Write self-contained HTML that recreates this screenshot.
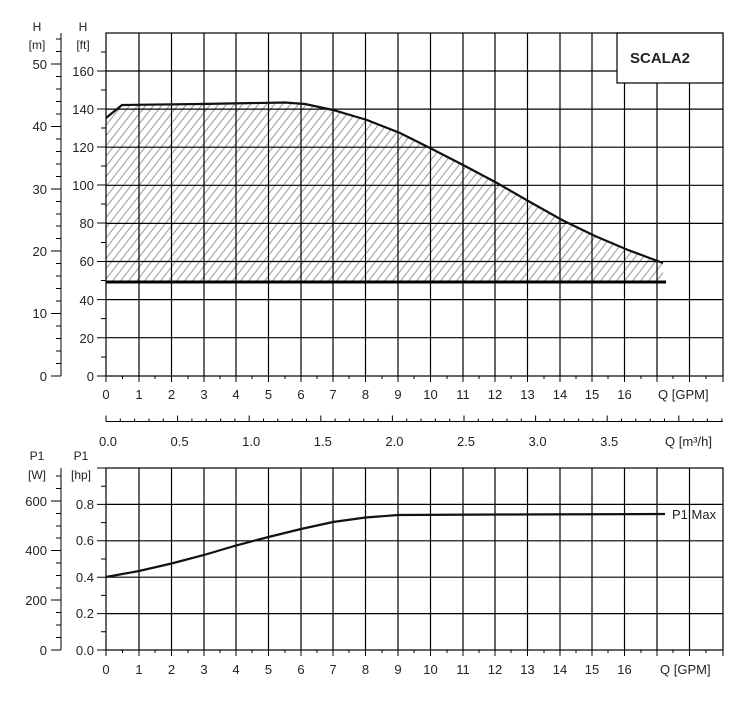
<!DOCTYPE html>
<html><head><meta charset="utf-8"><style>
html,body{margin:0;padding:0;background:#fff;}
svg text{font-family:"Liberation Sans",Arial,sans-serif;fill:#222;}
</style></head><body>
<svg width="753" height="700" viewBox="0 0 753 700" xmlns="http://www.w3.org/2000/svg">
<defs>
<pattern id="h" patternUnits="userSpaceOnUse" width="8" height="10" patternTransform="skewX(-38)">
<line x1="4" y1="0" x2="4" y2="10" stroke="#999" stroke-width="1.3"/>
</pattern>
</defs>
<rect width="753" height="700" fill="#fff"/>

<!-- hatched area -->
<path d="M106,118 L122,105 L200,104 L285,102.5 L305,104 L333,110 L367,120 L400,133 L432,149 L465,166 L497,183 L530,202 L562,220 L595,236 L628,250 L663,263 L663,282 L106,282 Z" fill="url(#h)"/>

<!-- top grid -->
<g stroke="#000" stroke-width="1.2" fill="none">
<rect x="106" y="33" width="617" height="343"/>
<path d="M139,33V376M171.5,33V376M204,33V376M236,33V376M268.5,33V376M301,33V376M333,33V376M365.5,33V376M398,33V376M430.5,33V376M463,33V376M495,33V376M527.5,33V376M560,33V376M592,33V376M624.5,33V376M657,33V376M689.5,33V376"/>
<path d="M106,71H723M106,109.1H723M106,147.2H723M106,185.3H723M106,223.4H723M106,261.5H723M106,299.6H723M106,337.7H723"/>
</g>
<rect x="617" y="33" width="106" height="50" fill="#fff" stroke="#000" stroke-width="1.2"/>
<text x="630" y="63" font-size="15" font-weight="bold">SCALA2</text>

<!-- curve -->
<path d="M106,118 L122,105 L200,104 L285,102.5 L305,104 L333,110 L367,120 L400,133 L432,149 L465,166 L497,183 L530,202 L562,220 L595,236 L628,250 L663,263" fill="none" stroke="#111" stroke-width="2.2"/>
<line x1="106" y1="282" x2="666" y2="282" stroke="#000" stroke-width="3"/>

<!-- left axes top -->
<g stroke="#000" stroke-width="1">
<line x1="61" y1="33" x2="61" y2="376"/>
<path d="M51,64H61M51,126.5H61M51,189H61M51,251H61M51,313.5H61M51,376H61"/>
<path d="M56,39H61M56,51.5H61M56,76.5H61M56,89H61M56,101.5H61M56,114H61M56,139H61M56,151.5H61M56,164H61M56,176.5H61M56,201.5H61M56,214H61M56,226H61M56,238.5H61M56,263.5H61M56,276H61M56,288.5H61M56,301H61M56,326H61M56,338.5H61M56,351H61M56,363.5H61"/>
<path d="M97,71H106M97,109H106M97,147H106M97,185H106M97,223H106M97,261.5H106M97,299.6H106M97,337.7H106M97,376H106"/>
<path d="M101,52H106M101,90H106M101,128H106M101,166H106M101,204H106M101,242.5H106M101,280.5H106M101,318.6H106M101,357H106"/>
</g>
<g font-size="13" text-anchor="end">
<text x="47" y="69">50</text><text x="47" y="131">40</text><text x="47" y="194">30</text><text x="47" y="256">20</text><text x="47" y="318">10</text><text x="47" y="381">0</text>
<text x="94" y="76">160</text><text x="94" y="114">140</text><text x="94" y="152">120</text><text x="94" y="190">100</text><text x="94" y="228">80</text><text x="94" y="266">60</text><text x="94" y="305">40</text><text x="94" y="343">20</text><text x="94" y="381">0</text>
</g>
<g font-size="12" text-anchor="middle">
<text x="37" y="31">H</text><text x="37" y="49">[m]</text>
<text x="83" y="31">H</text><text x="83" y="49">[ft]</text>
</g>

<!-- top x axis ticks -->
<g stroke="#000" stroke-width="1">
<path d="M106,376v6M139,376v6M171.5,376v6M204,376v6M236,376v6M268.5,376v6M301,376v6M333,376v6M365.5,376v6M398,376v6M430.5,376v6M463,376v6M495,376v6M527.5,376v6M560,376v6M592,376v6M624.5,376v6M657,376v6M689.5,376v6M723,376v6"/>
<path d="M122.5,376v3M155,376v3M188,376v3M220,376v3M252,376v3M285,376v3M317,376v3M349,376v3M382,376v3M414,376v3M447,376v3M479,376v3M511,376v3M544,376v3M576,376v3M608,376v3M641,376v3M673,376v3M706,376v3"/>
</g>
<g font-size="13" text-anchor="middle">
<text x="106" y="399">0</text><text x="139" y="399">1</text><text x="171.5" y="399">2</text><text x="204" y="399">3</text><text x="236" y="399">4</text><text x="268.5" y="399">5</text><text x="301" y="399">6</text><text x="333" y="399">7</text><text x="365.5" y="399">8</text><text x="398" y="399">9</text><text x="430.5" y="399">10</text><text x="463" y="399">11</text><text x="495" y="399">12</text><text x="527.5" y="399">13</text><text x="560" y="399">14</text><text x="592" y="399">15</text><text x="624.5" y="399">16</text>
</g>
<text x="658" y="399" font-size="13">Q [GPM]</text>

<!-- m3/h axis -->
<g stroke="#000" stroke-width="1">
<line x1="106" y1="421.5" x2="723" y2="421.5"/>
<path d="M106,421.5v-6M177.6,421.5v-6M249.2,421.5v-6M320.8,421.5v-6M392.4,421.5v-6M464,421.5v-6M535.6,421.5v-6M607.2,421.5v-6M678.8,421.5v-6"/>
<path d="M120.3,421.5v-3M134.6,421.5v-3M149,421.5v-3M163.3,421.5v-3M191.9,421.5v-3M206.2,421.5v-3M220.6,421.5v-3M234.9,421.5v-3M263.5,421.5v-3M277.8,421.5v-3M292.2,421.5v-3M306.5,421.5v-3M335.1,421.5v-3M349.4,421.5v-3M363.8,421.5v-3M378.1,421.5v-3M406.7,421.5v-3M421,421.5v-3M435.4,421.5v-3M449.7,421.5v-3M478.3,421.5v-3M492.6,421.5v-3M507,421.5v-3M521.3,421.5v-3M549.9,421.5v-3M564.2,421.5v-3M578.6,421.5v-3M592.9,421.5v-3M621.5,421.5v-3M635.8,421.5v-3M650.2,421.5v-3M664.5,421.5v-3M693.1,421.5v-3M707.4,421.5v-3M721.8,421.5v-3"/>
</g>
<g font-size="13" text-anchor="middle">
<text x="108" y="446">0.0</text><text x="179.6" y="446">0.5</text><text x="251.2" y="446">1.0</text><text x="322.8" y="446">1.5</text><text x="394.4" y="446">2.0</text><text x="466" y="446">2.5</text><text x="537.6" y="446">3.0</text><text x="609.2" y="446">3.5</text>
</g>
<text x="665" y="446" font-size="13">Q [m³/h]</text>

<!-- bottom plot -->
<g stroke="#000" stroke-width="1.2" fill="none">
<rect x="106" y="468" width="617" height="182"/>
<path d="M139,468V650M171.5,468V650M204,468V650M236,468V650M268.5,468V650M301,468V650M333,468V650M365.5,468V650M398,468V650M430.5,468V650M463,468V650M495,468V650M527.5,468V650M560,468V650M592,468V650M624.5,468V650M657,468V650M689.5,468V650"/>
<path d="M106,504.4H723M106,540.8H723M106,577.2H723M106,613.6H723"/>
</g>
<path d="M106,577 L139,571 L171.5,563.5 L204,555 L236,545.5 L268.5,537 L301,529 L333,522 L365.5,517.5 L398,515 L500,514.5 L665,514" fill="none" stroke="#111" stroke-width="2.2"/>
<text x="672" y="519" font-size="13">P1 Max</text>

<g stroke="#000" stroke-width="1">
<line x1="61" y1="468" x2="61" y2="650"/>
<path d="M51,501H61M51,550.5H61M51,600H61M51,650H61"/>
<path d="M56,476H61M56,488.5H61M56,513.5H61M56,526H61M56,538H61M56,563H61M56,575.5H61M56,588H61M56,612.5H61M56,625H61M56,637.5H61"/>
<path d="M97,468H106M97,504.4H106M97,540.8H106M97,577.2H106M97,613.6H106M97,650H106"/>
<path d="M101,486.2H106M101,522.6H106M101,559H106M101,595.4H106M101,631.8H106"/>
<path d="M106,650v6M139,650v6M171.5,650v6M204,650v6M236,650v6M268.5,650v6M301,650v6M333,650v6M365.5,650v6M398,650v6M430.5,650v6M463,650v6M495,650v6M527.5,650v6M560,650v6M592,650v6M624.5,650v6M657,650v6M689.5,650v6M723,650v6"/>
<path d="M122.5,650v3M155,650v3M188,650v3M220,650v3M252,650v3M285,650v3M317,650v3M349,650v3M382,650v3M414,650v3M447,650v3M479,650v3M511,650v3M544,650v3M576,650v3M608,650v3M641,650v3M673,650v3M706,650v3"/>
</g>
<g font-size="13" text-anchor="end">
<text x="47" y="506">600</text><text x="47" y="555">400</text><text x="47" y="605">200</text><text x="47" y="655">0</text>
<text x="94" y="509">0.8</text><text x="94" y="545">0.6</text><text x="94" y="582">0.4</text><text x="94" y="618">0.2</text><text x="94" y="655">0.0</text>
</g>
<g font-size="12" text-anchor="middle">
<text x="37" y="460">P1</text><text x="37" y="479">[W]</text>
<text x="81" y="460">P1</text><text x="81" y="479">[hp]</text>
</g>
<g font-size="13" text-anchor="middle">
<text x="106" y="674">0</text><text x="139" y="674">1</text><text x="171.5" y="674">2</text><text x="204" y="674">3</text><text x="236" y="674">4</text><text x="268.5" y="674">5</text><text x="301" y="674">6</text><text x="333" y="674">7</text><text x="365.5" y="674">8</text><text x="398" y="674">9</text><text x="430.5" y="674">10</text><text x="463" y="674">11</text><text x="495" y="674">12</text><text x="527.5" y="674">13</text><text x="560" y="674">14</text><text x="592" y="674">15</text><text x="624.5" y="674">16</text>
</g>
<text x="660" y="674" font-size="13">Q [GPM]</text>
</svg>
</body></html>
